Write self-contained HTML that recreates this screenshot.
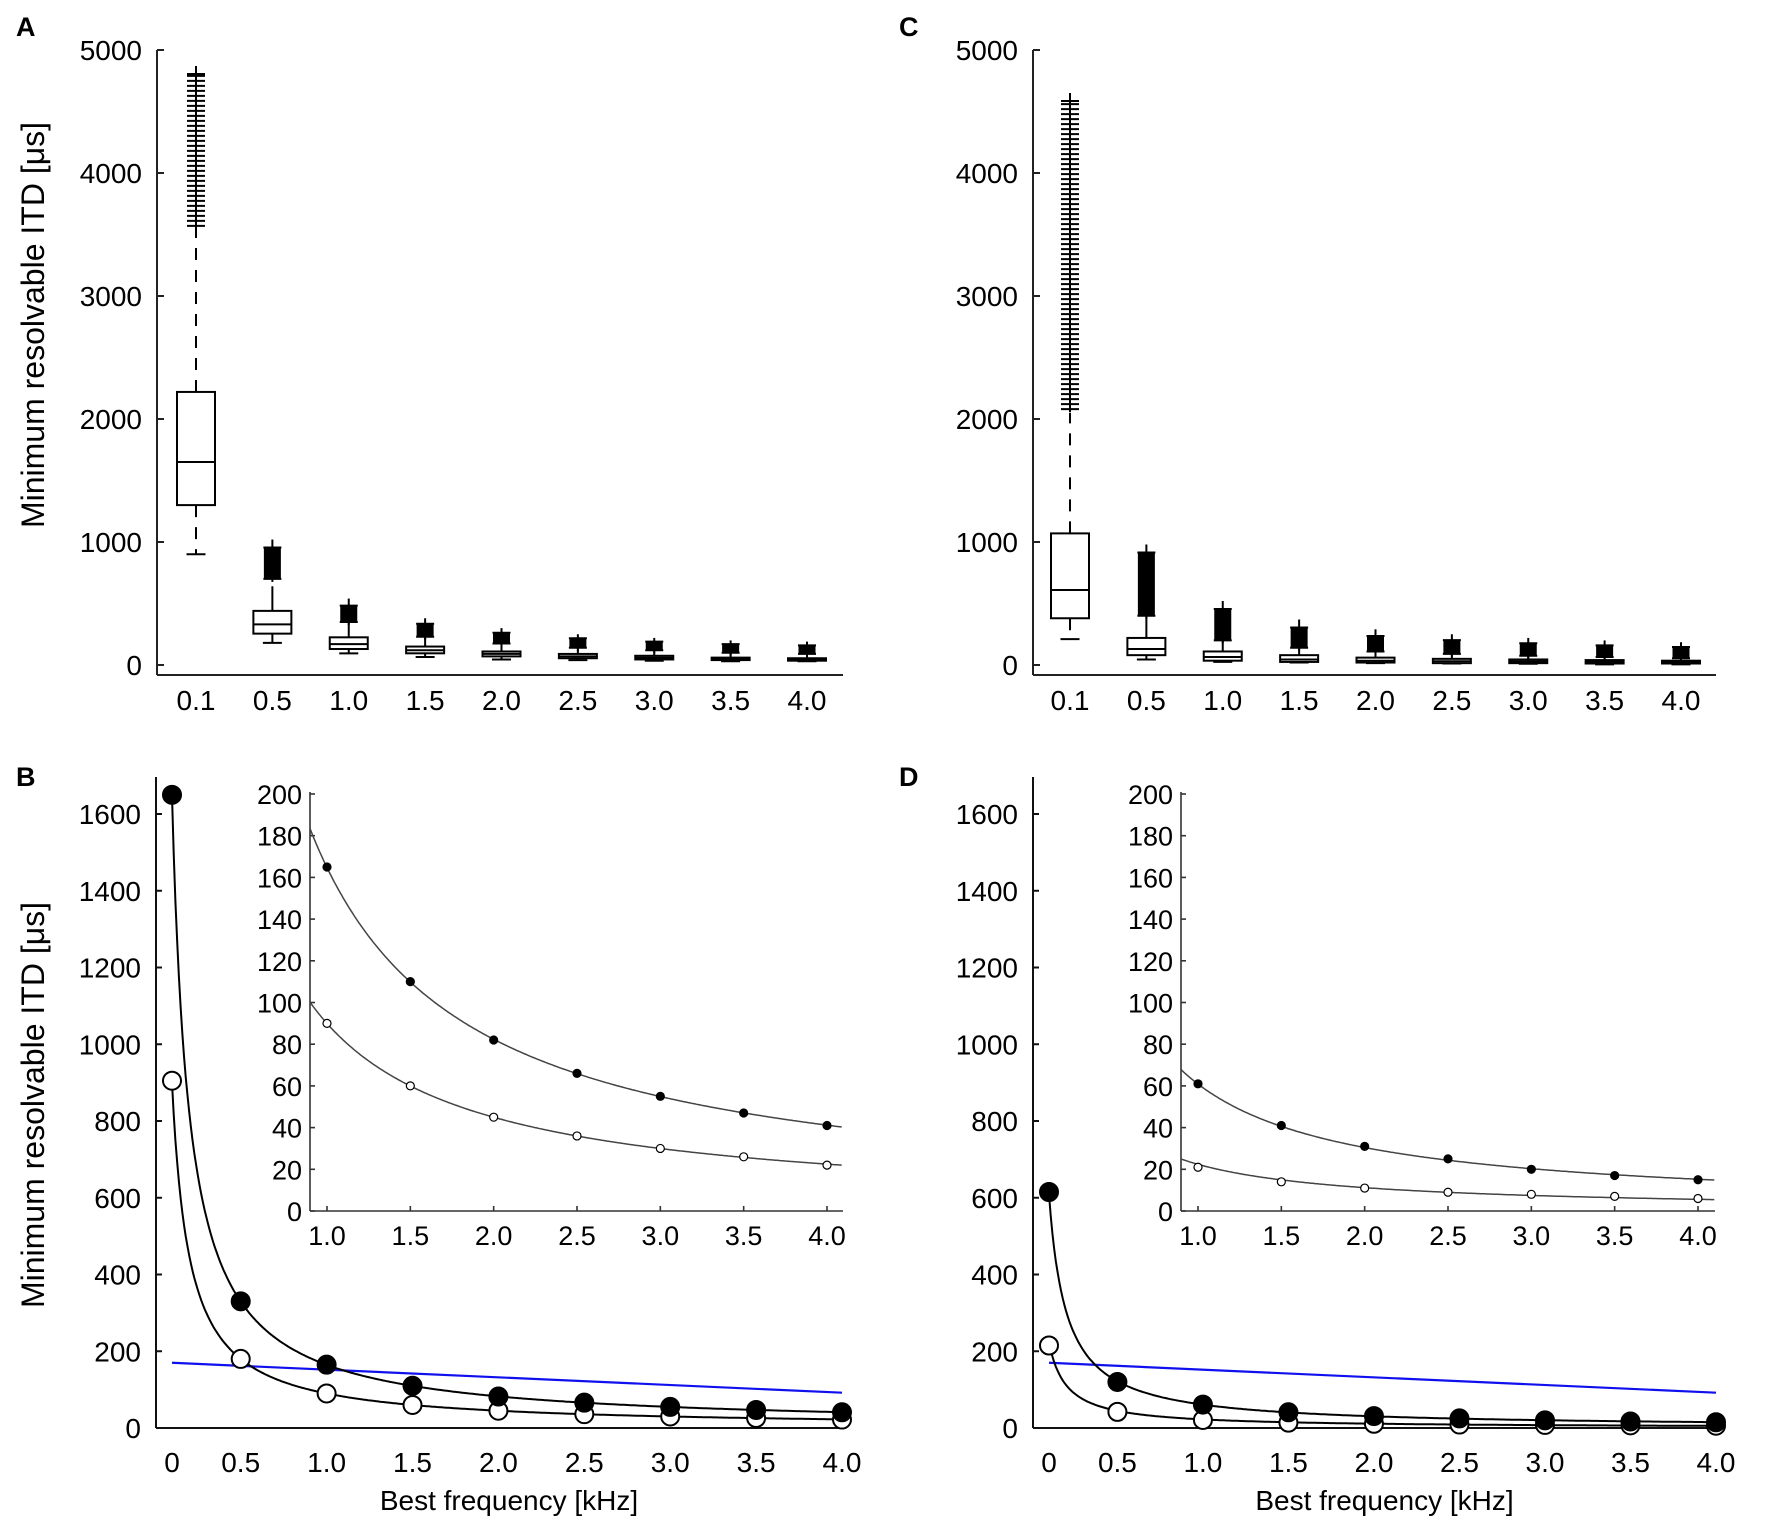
<!DOCTYPE html>
<html><head><meta charset="utf-8"><style>
html,body{margin:0;padding:0;background:#fff;}
svg{display:block;font-family:"Liberation Sans",Arial,sans-serif;}
</style></head><body>
<svg id="fig" width="1772" height="1529" viewBox="0 0 1772 1529" xmlns="http://www.w3.org/2000/svg"></svg>
<script>
// ---- Box plot data (A and C) ----
const boxCats = ["0.1","0.5","1.0","1.5","2.0","2.5","3.0","3.5","4.0"];
const aQ1 = [1300,255,130,95,70,55,45,40,35];
const aMed = [1650,330,170,120,90,70,60,50,45];
const aQ3 = [2220,440,225,150,110,90,75,60,55];
const aLo = [900,180,95,65,45,40,35,30,30];
const aHi = [3550,640,350,230,175,140,120,100,90];
const aOutLo = [3570,700,350,230,175,140,120,100,90];
const aOutHi = [4870,1020,540,380,300,250,220,200,190];
const cQ1 = [380,80,35,25,20,15,15,12,12];
const cMed = [610,130,65,45,35,30,28,25,22];
const cQ3 = [1070,220,110,80,60,50,45,40,35];
const cLo = [210,45,25,20,15,12,10,5,5];
const cHi = [2050,400,200,140,110,90,75,65,55];
const cOutLo = [2080,400,200,140,110,90,75,65,55];
const cOutHi = [4650,980,520,370,290,250,220,200,185];
const boxTicks = [0,1000,2000,3000,4000,5000];
// ---- Line data (B and D) ----
const freqs = [0.1,0.5,1.0,1.5,2.0,2.5,3.0,3.5,4.0];
const bFilled = [1650,330,165,110,82,66,55,47,41];
const bOpen = [905,180,90,60,45,36,30,26,22];
const dFilled = [615,120,61,41,31,25,20,17,15];
const dOpen = [215,42,21,14,11,9,8,7,6];
const blueF = [0.1,4.0];
const blueV = [170,92];
const mainYTicks = [0,200,400,600,800,1000,1200,1400,1600];
const mainXTicks = [0.1,0.5,1.0,1.5,2.0,2.5,3.0,3.5,4.0];
const mainXLabels = ["0","0.5","1.0","1.5","2.0","2.5","3.0","3.5","4.0"];
const insetYTicks = [0,20,40,60,80,100,120,140,160,180,200];
const insetXTicks = [1.0,1.5,2.0,2.5,3.0,3.5,4.0];
const insetXLabels = ["1.0","1.5","2.0","2.5","3.0","3.5","4.0"];

const svg = document.getElementById('fig');
const NS = "http://www.w3.org/2000/svg";
function mk(tag, attrs, parent){
  const e = document.createElementNS(NS, tag);
  for (const k in attrs) e.setAttribute(k, attrs[k]);
  (parent||svg).appendChild(e);
  return e;
}
function txt(s, x, y, size, anchor, parent, extra){
  const t = mk('text', Object.assign({x:x, y:y, 'font-size':size, 'text-anchor':anchor||'middle', fill:'#000'}, extra||{}), parent);
  t.textContent = s;
  return t;
}

function panelLabel(s, x, y){
  const t = txt(s, x, y, 27, 'start', svg, {'font-weight':'bold'});
  
  
}
function yTitle(x, y, name){
  const t = txt('Minimum resolvable ITD [μs]', x, y, 32, 'middle', svg, {transform:'rotate(-90 '+x+' '+y+')'});
  
  
}

// ---- Box plot panel ----
function boxPanel(name, ax, xEnd, x0, x9, q1, med, q3, lo, hi, olo, ohi){
  const g = mk('g', {});
  
  
  const yTop = 50, yZero = 665;
  const ys = v => yZero - (v/5000)*(yZero - yTop);
  const xs = i => x0 + i*(x9 - x0)/8;
  const axisG = mk('g', {stroke:'#222', 'stroke-width':2, fill:'none'}, g);
  
  
  mk('line', {x1:ax, y1:yTop, x2:ax, y2:675}, axisG);
  mk('line', {x1:ax, y1:675, x2:xEnd, y2:675}, axisG);
  boxTicks.forEach(v => {
    mk('line', {x1:ax, y1:ys(v), x2:ax+7, y2:ys(v)}, axisG);
    const t = txt(String(v), ax-15, ys(v)+10, 28, 'end', g);
    
    
  });
  boxCats.forEach((c, i) => {
    const t = txt(c, xs(i), 710, 28, 'middle', g);
    
    
    const bg = mk('g', {stroke:'#000', 'stroke-width':2, fill:'none'}, g);
    
    
    const x = xs(i), w = 38, cw = 19;
    mk('rect', {x:x-w/2, y:ys(q3[i]), width:w, height:ys(q1[i])-ys(q3[i]), fill:'#fff'}, bg);
    mk('line', {x1:x-w/2, y1:ys(med[i]), x2:x+w/2, y2:ys(med[i])}, bg);
    const dash = i===0 ? '12 10' : 'none';
    mk('line', {x1:x, y1:ys(q3[i]), x2:x, y2:ys(hi[i]), 'stroke-dasharray':dash}, bg);
    mk('line', {x1:x, y1:ys(q1[i]), x2:x, y2:ys(lo[i]), 'stroke-dasharray':dash}, bg);
    mk('line', {x1:x-cw/2, y1:ys(lo[i]), x2:x+cw/2, y2:ys(lo[i])}, bg);
    const og = mk('g', {stroke:'#000', 'stroke-width':2}, g);
    
    
    const yl = ys(olo[i]), yh = ys(ohi[i]);
    mk('line', {x1:x, y1:yl+3, x2:x, y2:yh}, og);
    if (i === 0) {
      for (let y = yl; y > yh + 8; y -= 5) mk('line', {x1:x-9, y1:y, x2:x+9, y2:y}, og);
      mk('line', {x1:x-9, y1:yh+8, x2:x+9, y2:yh+8}, og);
    } else {
      const top = yh + Math.min(8, (yl-yh)*0.3);
      mk('rect', {x:x-8.5, y:top, width:17, height:Math.max(2, yl-top), fill:'#000', stroke:'none'}, og);
      mk('line', {x1:x-9, y1:yl, x2:x+9, y2:yl}, og);
      mk('line', {x1:x-9, y1:top, x2:x+9, y2:top}, og);
    }
  });
}

// ---- Line panel ----
function fitA(vals){
  let s = 0; freqs.forEach((f,i)=>{ s += vals[i]*f; }); return s/freqs.length;
}
function linePanel(name, ax, x01, x4, filled, open, inset){
  const g = mk('g', {});
  
  
  const yZero = 1428, y1600 = 814;
  const ys = v => yZero - (v/1600)*(yZero - y1600);
  const k = (x4 - x01)/3.9;
  const xs = f => x01 + (f-0.1)*k;
  const axisG = mk('g', {stroke:'#111', 'stroke-width':2, fill:'none'}, g);
  
  
  mk('line', {x1:ax, y1:777, x2:ax, y2:yZero}, axisG);
  mk('line', {x1:ax, y1:yZero, x2:x4+2, y2:yZero}, axisG);
  mainYTicks.forEach(v => {
    mk('line', {x1:ax, y1:ys(v), x2:ax+6, y2:ys(v)}, axisG);
    const t = txt(String(v), ax-15, ys(v)+10, 28, 'end', g);
    
    
  });
  mainXTicks.forEach((f,i) => {
    const t = txt(mainXLabels[i], xs(f), 1472, 28, 'middle', g);
    
    
  });
  const xt = txt('Best frequency [kHz]', (ax + x4)/2 + 10, 1510, 28, 'middle', g);
  
  
  const bl = mk('line', {x1:xs(blueF[0]), y1:ys(blueV[0]), x2:xs(blueF[1]), y2:ys(blueV[1]), stroke:'#1010ee', 'stroke-width':2.2}, g);
  
  
  [[filled,'#000','filled'],[open,'#fff','open']].forEach(([vals, fill, nm]) => {
    const a = fitA(vals);
    let d = '';
    for (let f = 0.1; f <= 4.0001; f += 0.01) {
      const v = Math.min(a/f, vals[0]);
      d += (d ? 'L' : 'M') + xs(f).toFixed(1) + ' ' + ys(v).toFixed(1);
    }
    const p = mk('path', {d:d, fill:'none', stroke:'#000', 'stroke-width':2}, g);
    
    
  });
  [[open,'#fff','open'],[filled,'#000','filled']].forEach(([vals, fill, nm]) => {
    freqs.forEach((f,i) => {
      const c = mk('circle', {cx:xs(f), cy:ys(vals[i]), r:9, fill:fill, stroke:'#000', 'stroke-width':2}, g);
      
      
    });
  });
  const ig = mk('g', {}, g);
  
  
  const iyT = 794, iyZ = 1211;
  const iys = v => iyZ - (v/200)*(iyZ - iyT);
  const ik = (inset.x4 - inset.x1)/3;
  const ixs = f => inset.x1 + (f-1)*ik;
  const iaxis = mk('g', {stroke:'#333', 'stroke-width':1.6, fill:'none'}, ig);
  
  
  mk('line', {x1:inset.ax, y1:iyT-2, x2:inset.ax, y2:iyZ}, iaxis);
  mk('line', {x1:inset.ax, y1:iyZ, x2:inset.end, y2:iyZ}, iaxis);
  insetYTicks.forEach(v => {
    mk('line', {x1:inset.ax, y1:iys(v), x2:inset.ax+5, y2:iys(v)}, iaxis);
    const t = txt(String(v), inset.ax-8, iys(v)+10, 27, 'end', ig);
    
    
  });
  insetXTicks.forEach((f,i) => {
    mk('line', {x1:ixs(f), y1:iyZ, x2:ixs(f), y2:iyZ-5}, iaxis);
    const t = txt(insetXLabels[i], ixs(f), 1245, 27, 'middle', ig);
    
    
  });
  const fL = 1 - (inset.x1 - inset.ax)/ik, fR = 1 + (inset.end - inset.x1)/ik;
  [[filled,'#000','filled'],[open,'#fff','open']].forEach(([vals, fill, nm]) => {
    const a = fitA(vals);
    let d = '';
    for (let f = fL; f <= fR + 1e-6; f += 0.01) {
      d += (d ? 'L' : 'M') + ixs(f).toFixed(1) + ' ' + iys(a/f).toFixed(1);
    }
    const p = mk('path', {d:d, fill:'none', stroke:'#444', 'stroke-width':1.5}, ig);
    
    
    freqs.forEach((f,i) => {
      if (f < 1) return;
      const c = mk('circle', {cx:ixs(f), cy:iys(vals[i]), r:4, fill:fill, stroke:'#000', 'stroke-width':1.2}, ig);
      
      
    });
  });
}

panelLabel('A', 16, 36);
panelLabel('C', 899, 36);
panelLabel('B', 16, 786);
panelLabel('D', 899, 786);
yTitle(44, 325, 'y-axis-title-a');
yTitle(44, 1105, 'y-axis-title-b');
boxPanel('panel-a', 157, 843, 196, 807, aQ1, aMed, aQ3, aLo, aHi, aOutLo, aOutHi);
boxPanel('panel-c', 1033, 1716, 1070, 1681, cQ1, cMed, cQ3, cLo, cHi, cOutLo, cOutHi);
linePanel('panel-b', 156, 172, 842, bFilled, bOpen, {ax:310, x1:327, x4:827, end:843});
linePanel('panel-d', 1033, 1049, 1716, dFilled, dOpen, {ax:1181, x1:1198, x4:1698, end:1715});
</script>
</body></html>
